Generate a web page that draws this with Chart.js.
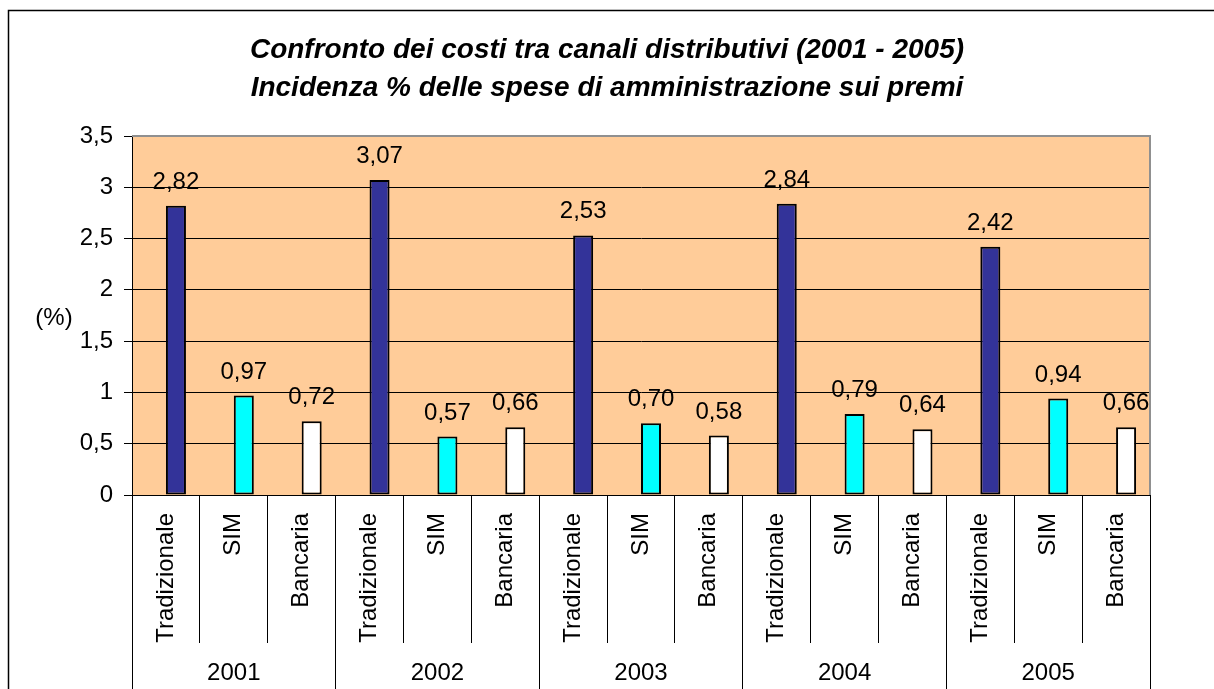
<!DOCTYPE html>
<html>
<head>
<meta charset="utf-8">
<script src="https://cdn.jsdelivr.net/npm/chart.js@4"></script>
<style>
  html, body { margin: 0; padding: 0; background: #fff; }
  #wrap { position: relative; width: 1214px; height: 689px; }
</style>
</head>
<body>
<div id="wrap"><canvas id="c" width="1214" height="689"></canvas></div>
<script>
// ---- data ----
const years = ['2001', '2002', '2003', '2004', '2005'];
const channels = ['Tradizionale', 'SIM', 'Bancaria'];
const values = [2.82, 0.97, 0.72, 3.07, 0.57, 0.66, 2.53, 0.70, 0.58, 2.84, 0.79, 0.64, 2.42, 0.94, 0.66];
const channelColors = ['#333399', '#00FFFF', '#FFFFFF'];
const yTicks = [0, 0.5, 1, 1.5, 2, 2.5, 3, 3.5];
const titleLines = ['Confronto dei costi tra canali distributivi (2001 - 2005)', 'Incidenza % delle spese di amministrazione sui premi'];
const yTitle = '(%)';

const categories = [];
years.forEach(() => channels.forEach(ch => categories.push(ch)));
const barColors = categories.map((_, i) => channelColors[i % channels.length]);
const emptySeries = categories.map(() => null);

const FONT = "'Liberation Sans', Arial, sans-serif";
const FS = 24;
const fmt = v => v.toFixed(2).replace('.', ',');
const fmtTick = v => String(v).replace('.', ',');

const decor = {
  id: 'decor',
  beforeDraw(chart) {
    const { ctx, chartArea: a } = chart;
    ctx.save();
    ctx.fillStyle = '#FFFFFF';
    ctx.fillRect(0, 0, chart.width, chart.height);
    ctx.fillStyle = '#FFCC99';
    ctx.fillRect(a.left, a.top, a.right - a.left, a.bottom - a.top);
    ctx.strokeStyle = '#000';
    ctx.lineWidth = 1.5;
    ctx.strokeRect(8.5, 10.5, chart.width + 20, chart.height + 20);
    ctx.restore();
  },
  afterDraw(chart) {
    const { ctx, chartArea: a } = chart;
    ctx.save();
    ctx.strokeStyle = '#909090';
    ctx.lineWidth = 2;
    ctx.beginPath();
    ctx.moveTo(a.left, a.top);
    ctx.lineTo(a.right, a.top);
    ctx.lineTo(a.right, a.bottom);
    ctx.stroke();
    ctx.fillStyle = '#000';
    ctx.font = FS + 'px ' + FONT;
    ctx.textAlign = 'center';
    ctx.textBaseline = 'middle';
    ctx.fillText(yTitle, 54, 318);
    ctx.restore();
  },
  afterDatasetsDraw(chart) {
    const { ctx } = chart;
    const meta = chart.getDatasetMeta(1);
    ctx.save();
    ctx.fillStyle = '#000';
    ctx.font = FS + 'px ' + FONT;
    ctx.textAlign = 'center';
    ctx.textBaseline = 'alphabetic';
    meta.data.forEach((el, i) => {
      ctx.fillText(fmt(values[i]), el.x, el.y - 17);
    });
    ctx.restore();
  }
};

new Chart(document.getElementById('c'), {
  type: 'bar',
  data: {
    labels: categories,
    datasets: [
      { label: 'vuoto', data: emptySeries, backgroundColor: 'transparent' },
      {
        label: 'Incidenza %',
        data: values,
        backgroundColor: barColors,
        borderColor: '#000',
        borderWidth: 2,
        borderSkipped: false
      }
    ]
  },
  plugins: [decor],
  options: {
    responsive: false,
    animation: false,
    devicePixelRatio: 1,
    categoryPercentage: 0.59,
    barPercentage: 1.0,
    layout: { padding: { left: 0, right: 0, top: 0, bottom: 0 } },
    plugins: {
      legend: { display: false },
      tooltip: { enabled: false },
      title: {
        display: true,
        text: titleLines,
        color: '#000',
        font: { family: FONT, size: 28, weight: 'bold', style: 'italic', lineHeight: 1.375 },
        padding: { top: 31, bottom: 28 }
      }
    },
    scales: {
      y: {
        min: 0,
        max: 3.5,
        afterBuildTicks(scale) { scale.ticks = yTicks.map(v => ({ value: v })); },
        afterFit(scale) { scale.width = 132; },
        ticks: {
          color: '#000',
          font: { family: FONT, size: FS },
          padding: 11,
          callback: v => fmtTick(v)
        },
        grid: {
          color: ctx => (ctx.tick && ctx.tick.value === 3.5) ? 'rgba(0,0,0,0)' : '#000',
          lineWidth: 1,
          tickLength: 8,
          tickColor: '#000'
        },
        border: { display: true, color: '#000', width: 1 }
      },
      yRight: {
        type: 'linear',
        position: 'right',
        display: true,
        afterFit(scale) { scale.width = 64; },
        ticks: { display: false },
        grid: { display: false },
        border: { display: false }
      },
      x: {
        type: 'category',
        position: 'bottom',
        weight: 1,
        afterFit(scale) { scale.height = 148; },
        ticks: {
          color: '#000',
          font: { family: FONT, size: FS },
          autoSkip: false,
          minRotation: 90,
          maxRotation: 90,
          padding: -130
        },
        grid: {
          offset: true,
          drawOnChartArea: false,
          color: '#000',
          lineWidth: 1,
          tickLength: 148
        },
        border: { display: true, color: '#000', width: 1 }
      },
      x2: {
        type: 'category',
        position: 'bottom',
        weight: 2,
        labels: years,
        afterFit(scale) { scale.height = 46; },
        ticks: {
          color: '#000',
          font: { family: FONT, size: FS },
          autoSkip: false,
          maxRotation: 0,
          minRotation: 0,
          padding: -30
        },
        grid: {
          offset: true,
          drawOnChartArea: false,
          color: '#000',
          lineWidth: 1,
          tickLength: 46
        },
        border: { display: false }
      }
    }
  }
});
</script>
</body>
</html>
